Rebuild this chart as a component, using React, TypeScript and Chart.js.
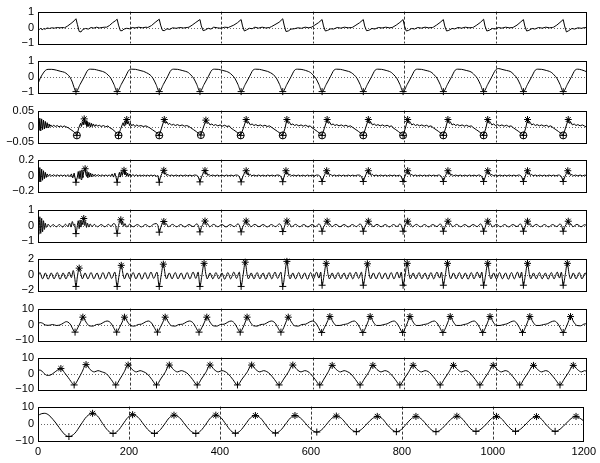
import React, { useEffect, useRef } from "react";
import { Chart, registerables } from "chart.js";
Chart.register(...registerables);

type Pt = [number, number];

const X_TICKS = [0, 200, 400, 600, 800, 1000, 1200];
const X_GRID = [200, 400, 600, 800, 1000];

// ---------- panel 1 : raw signal ----------
const S1: Pt[] = [
  [0,-0.05],[3,-0.12],[6,-0.05],[9,-0.15],[12,-0.08],[16,-0.1],[20,-0.03],[25,-0.06],[30,-0.02],[36,-0.04],[42,0.0],[48,-0.02],[55,0.0],
  [58,-0.02],[64,0.08],[72,0.25],[79,0.42],[83,0.55],[86,0.2],[90,-0.25],[94,-0.28],[98,-0.12],[104,-0.06],[110,-0.1],[116,0.0],[122,-0.04],[128,0.02],[134,-0.03],[140,0.0],[146,0.02],
  [150,0.02],[156,0.12],[163,0.3],[169,0.42],[173,0.52],[176,0.15],[180,-0.2],[184,-0.2],[188,-0.1],[194,-0.05],[200,-0.08],[206,0.0],[212,-0.03],[220,0.02],[228,-0.02],[236,0.02],
  [240,0.0],[248,0.12],[256,0.32],[265,0.52],[268,0.15],[272,-0.18],[276,-0.2],[282,-0.08],[288,-0.12],[294,-0.02],[302,-0.05],[310,0.0],[318,-0.03],[326,0.0],
  [330,0.02],[337,0.15],[345,0.32],[354,0.5],[357,0.1],[361,-0.2],[366,-0.15],[372,-0.05],[378,-0.1],[384,0.02],[392,-0.02],[400,-0.05],[408,0.02],[416,0.0],
  [420,0.05],[428,0.15],[436,0.3],[444,0.5],[447,0.1],[451,-0.22],[456,-0.15],[462,-0.05],[468,-0.08],[474,0.02],[482,-0.04],[490,0.02],[498,-0.03],[506,0.0],
  [510,0.05],[518,0.18],[527,0.33],[535,0.55],[538,0.15],[542,-0.25],[547,-0.22],[553,-0.1],[560,-0.08],[568,-0.02],[576,-0.05],[584,0.02],[592,-0.02],
  [598,0.02],[605,0.15],[613,0.3],[621,0.5],[624,0.1],[628,-0.22],[633,-0.18],[640,-0.08],[646,-0.1],[654,0.0],[662,-0.04],[670,0.02],[678,-0.02],[686,0.0],
  [688,0.02],[695,0.15],[703,0.3],[711,0.5],[714,0.1],[718,-0.2],[723,-0.18],[730,-0.06],[736,-0.1],[744,0.0],[752,-0.03],[760,0.02],[768,-0.02],[774,0.0],
  [776,0.03],[783,0.15],[791,0.32],[798,0.5],[801,0.1],[805,-0.22],[810,-0.18],[817,-0.06],[823,-0.1],[830,0.0],[838,-0.04],[846,0.02],[854,-0.02],[862,0.0],
  [864,0.02],[871,0.15],[879,0.32],[886,0.5],[889,0.1],[893,-0.22],[898,-0.18],[905,-0.06],[911,-0.09],[918,0.0],[926,-0.04],[934,0.02],[942,-0.02],[950,0.0],
  [952,0.02],[959,0.15],[967,0.32],[974,0.52],[977,0.1],[981,-0.22],[986,-0.18],[993,-0.06],[999,-0.1],[1006,0.0],[1014,-0.04],[1022,0.02],[1030,-0.02],[1038,0.0],
  [1040,0.03],[1047,0.15],[1054,0.32],[1061,0.5],[1064,0.1],[1068,-0.22],[1073,-0.18],[1080,-0.06],[1086,-0.1],[1094,0.0],[1102,-0.04],[1110,0.02],[1118,-0.02],[1124,0.0],
  [1127,0.02],[1134,0.15],[1141,0.32],[1148,0.5],[1151,0.1],[1155,-0.28],[1160,-0.2],[1167,-0.06],[1173,-0.1],[1180,-0.02],[1188,-0.05],[1195,0.0],[1200,-0.02],
];

// ---------- panel 2 ----------
const S2: Pt[] = [
  [0,-0.45],[5,-0.1],[10,0.15],[16,0.38],[22,0.45],[30,0.45],[40,0.4],[50,0.32],[58,0.26],[64,0.14],[70,-0.05],[75,-0.35],[79,-0.7],[83,-0.95],
  [92,-0.5],[101,-0.02],[109,0.4],[115,0.46],[123,0.45],[133,0.38],[141,0.32],[147,0.24],[153,0.1],[159,-0.1],[166,-0.5],[173,-0.95],
  [182,-0.5],[191,-0.02],[199,0.4],[205,0.46],[213,0.45],[223,0.38],[231,0.32],[237,0.24],[245,0.1],[251,-0.1],[258,-0.5],[265,-0.95],
  [274,-0.5],[283,-0.02],[291,0.4],[297,0.46],[305,0.45],[315,0.38],[323,0.32],[329,0.24],[334,0.1],[340,-0.1],[347,-0.5],[354,-0.95],
  [363,-0.5],[372,-0.02],[380,0.4],[386,0.46],[394,0.45],[404,0.38],[412,0.32],[418,0.24],[424,0.1],[430,-0.1],[437,-0.5],[444,-0.95],
  [453,-0.5],[462,-0.02],[470,0.4],[476,0.46],[484,0.45],[494,0.38],[502,0.32],[508,0.24],[515,0.1],[521,-0.1],[528,-0.5],[535,-0.95],
  [544,-0.5],[553,-0.02],[561,0.4],[567,0.46],[575,0.45],[585,0.38],[591,0.32],[596,0.24],[601,0.1],[607,-0.1],[614,-0.5],[621,-0.95],
  [630,-0.5],[639,-0.02],[647,0.4],[653,0.46],[661,0.45],[671,0.38],[679,0.32],[685,0.24],[691,0.1],[697,-0.1],[704,-0.5],[711,-0.95],
  [720,-0.5],[729,-0.02],[737,0.4],[743,0.46],[751,0.45],[761,0.38],[768,0.32],[773,0.24],[778,0.1],[784,-0.1],[791,-0.5],[798,-0.95],
  [807,-0.5],[816,-0.02],[824,0.4],[830,0.46],[838,0.45],[848,0.38],[856,0.32],[861,0.24],[866,0.1],[872,-0.1],[879,-0.5],[886,-0.95],
  [895,-0.5],[904,-0.02],[912,0.4],[918,0.46],[926,0.45],[936,0.38],[944,0.32],[949,0.24],[954,0.1],[960,-0.1],[967,-0.5],[974,-0.95],
  [983,-0.5],[992,-0.02],[1000,0.4],[1006,0.5],[1014,0.45],[1024,0.38],[1032,0.32],[1036,0.24],[1041,0.1],[1047,-0.1],[1054,-0.5],[1061,-0.95],
  [1070,-0.5],[1079,-0.02],[1087,0.4],[1093,0.46],[1101,0.45],[1111,0.38],[1118,0.32],[1123,0.24],[1128,0.1],[1134,-0.1],[1141,-0.5],[1148,-0.95],
  [1157,-0.5],[1166,-0.02],[1174,0.4],[1180,0.46],[1188,0.42],[1195,0.35],[1200,0.28],
];
const B_MIN = [83, 173, 265, 354, 444, 535, 621, 711, 798, 886, 974, 1061, 1148];

// ---------- panel 3 ----------
const S3: Pt[] = [
  [0,0.01],[2,-0.012],[4,0.026],[6,-0.014],[8,0.024],[10,-0.01],[12,0.02],[14,-0.008],[16,0.016],[18,-0.005],[20,0.012],[22,-0.003],[24,0.008],[26,0.0],[28,0.005],[31,-0.001],[34,0.004],[38,0.0],[42,0.003],[46,-0.001],[50,0.002],[54,-0.002],[57,0.002],[60,0.0],
  [66,-0.004],[72,-0.01],[78,-0.016],[82,-0.022],[85,-0.028],[89,-0.005],[93,0.01],[95,0.0],[97,0.015],[99,0.005],[101,0.024],[103,0.006],[105,0.018],[107,0.0],[109,0.014],[111,0.0],[113,0.012],[115,-0.002],[117,0.01],[119,0.0],[121,0.008],[124,0.0],[127,0.006],[130,0.001],[134,0.004],[138,0.0],[143,0.003],[148,-0.001],[153,0.002],
  [156,-0.003],[162,-0.008],[168,-0.015],[172,-0.022],[176,-0.028],[180,-0.01],[184,0.005],[186,0.012],[188,0.002],[190,0.018],[192,0.006],[194,0.022],[196,0.008],[198,0.014],[200,0.003],[202,0.01],[205,0.002],[208,0.007],[212,0.0],[216,0.005],[220,0.001],[225,0.003],[230,0.0],[236,0.002],[241,-0.002],
  [244,-0.004],[250,-0.01],[256,-0.016],[261,-0.022],[265,-0.028],[270,-0.005],[276,0.022],[279,0.01],[282,0.014],[285,0.006],[288,0.01],[292,0.004],[296,0.007],[300,0.003],[305,0.006],[310,0.002],[315,0.005],[320,0.001],[325,0.003],[330,0.0],
  [334,-0.004],[340,-0.01],[346,-0.016],[351,-0.022],[356,-0.027],[361,-0.005],[367,0.02],[370,0.01],[373,0.012],[376,0.005],[380,0.008],[384,0.003],[388,0.006],[393,0.002],[398,0.005],[403,0.001],[408,0.004],[413,0.0],[418,0.002],
  [421,-0.004],[427,-0.01],[433,-0.016],[438,-0.022],[443,-0.028],[449,-0.005],[455,0.022],[458,0.01],[461,0.013],[464,0.005],[468,0.008],[472,0.003],[476,0.006],[481,0.002],[486,0.005],[491,0.001],[496,0.004],[501,0.0],[506,0.002],
  [512,-0.004],[518,-0.01],[524,-0.016],[530,-0.022],[535,-0.028],[540,-0.005],[544,0.022],[547,0.01],[550,0.013],[553,0.005],[557,0.008],[561,0.003],[565,0.006],[570,0.002],[575,0.005],[580,0.001],[585,0.004],[590,0.0],[595,0.002],
  [599,-0.004],[605,-0.01],[611,-0.016],[616,-0.022],[621,-0.028],[626,-0.005],[632,0.022],[635,0.01],[638,0.013],[641,0.005],[645,0.008],[649,0.003],[653,0.006],[658,0.002],[663,0.005],[668,0.001],[673,0.004],[678,0.0],[683,0.002],
  [689,-0.004],[695,-0.01],[701,-0.016],[706,-0.022],[711,-0.028],[716,-0.005],[722,0.022],[725,0.01],[728,0.013],[731,0.005],[735,0.008],[739,0.003],[743,0.006],[748,0.002],[753,0.005],[758,0.001],[763,0.004],[768,0.0],[773,0.002],
  [776,-0.004],[782,-0.01],[788,-0.016],[793,-0.022],[798,-0.028],[803,-0.005],[808,0.022],[811,0.01],[814,0.013],[817,0.005],[821,0.008],[825,0.003],[829,0.006],[834,0.002],[839,0.005],[844,0.001],[849,0.004],[854,0.0],[859,0.002],
  [864,-0.004],[870,-0.01],[876,-0.016],[881,-0.022],[886,-0.028],[891,-0.005],[896,0.022],[899,0.01],[902,0.013],[905,0.005],[909,0.008],[913,0.003],[917,0.006],[922,0.002],[927,0.005],[932,0.001],[937,0.004],[942,0.0],[947,0.002],
  [952,-0.004],[958,-0.01],[964,-0.016],[969,-0.022],[974,-0.028],[979,-0.005],[983,0.022],[986,0.01],[989,0.013],[992,0.005],[996,0.008],[1000,0.003],[1004,0.006],[1009,0.002],[1014,0.005],[1019,0.001],[1024,0.004],[1029,0.0],[1034,0.002],
  [1039,-0.004],[1045,-0.01],[1051,-0.016],[1056,-0.022],[1061,-0.028],[1066,-0.005],[1070,0.022],[1073,0.01],[1076,0.013],[1079,0.005],[1083,0.008],[1087,0.003],[1091,0.006],[1096,0.002],[1101,0.005],[1106,0.001],[1111,0.004],[1116,0.0],[1121,0.002],
  [1126,-0.004],[1132,-0.01],[1138,-0.016],[1143,-0.022],[1148,-0.028],[1153,-0.005],[1159,0.022],[1162,0.01],[1165,0.013],[1168,0.005],[1172,0.008],[1176,0.003],[1180,0.006],[1185,0.002],[1190,0.005],[1195,0.001],[1200,-0.003],
];
const S3_MIN = [85, 176, 265, 356, 443, 535, 621, 711, 798, 886, 974, 1061, 1148];
const S3_MAX = [101, 194, 276, 367, 455, 544, 632, 722, 808, 896, 983, 1070, 1159];

// ---------- panel 4 ----------
const S4: Pt[] = [
  [0,0.02],[2,-0.08],[4,0.1],[6,-0.08],[8,0.08],[10,-0.06],[12,0.06],[14,-0.04],[16,0.04],[18,-0.025],[20,0.02],[23,-0.01],[26,0.015],[30,-0.008],[34,0.01],[38,-0.005],[42,0.008],[46,-0.006],[50,0.006],[54,-0.005],[58,0.006],[62,-0.008],[66,0.01],[70,-0.015],[73,0.02],[76,-0.03],[79,0.03],
  [83,-0.085],[86,-0.02],[88,0.05],[90,-0.04],[92,0.06],[94,-0.05],[96,0.07],[98,-0.03],[100,0.05],[103,0.085],[105,0.0],[107,0.05],[109,-0.03],[111,0.04],[113,-0.02],[115,0.03],[117,-0.015],[119,0.02],[122,-0.01],[125,0.015],[128,-0.005],[132,0.01],[136,-0.006],[140,0.008],[144,-0.005],[148,0.006],[152,-0.005],[156,0.008],[159,-0.01],[162,0.02],[165,-0.02],[168,0.03],[170,-0.01],
  [173,-0.085],[176,0.0],[178,0.04],[180,-0.02],[182,0.05],[184,0.0],[186,0.045],[188,0.065],[190,0.01],[192,0.04],[194,-0.01],[196,0.03],[198,-0.01],[201,0.02],[204,-0.008],[207,0.012],[211,-0.005],[215,0.008],[219,-0.006],[223,0.006],[227,-0.005],[231,0.006],[235,-0.004],[239,0.005],[243,-0.005],[247,0.006],[251,-0.004],[255,0.005],[259,-0.01],[262,0.0],
  [265,-0.085],[268,-0.01],[271,0.025],[275,0.065],[277,0.015],[279,0.03],[281,0.0],[284,0.015],[287,-0.004],[292,0.006],[297,-0.005],[302,0.006],[307,-0.005],[312,0.005],[317,-0.006],[322,0.006],[327,-0.004],[332,0.005],[337,-0.005],[342,0.006],[346,0.004],[350,-0.012],
  [354,-0.08],[358,-0.01],[361,0.025],[365,0.062],[367,0.015],[369,0.03],[371,0.0],[374,0.015],[377,-0.004],[382,0.006],[387,-0.005],[392,0.006],[397,-0.005],[402,0.005],[407,-0.006],[412,0.006],[417,-0.004],[422,0.005],[427,-0.005],[432,0.006],[436,0.004],[440,-0.012],
  [444,-0.08],[448,-0.01],[451,0.025],[455,0.06],[457,0.015],[459,0.03],[461,0.0],[464,0.015],[467,-0.004],[472,0.006],[477,-0.005],[482,0.006],[487,-0.005],[492,0.005],[497,-0.006],[502,0.006],[507,-0.004],[512,0.005],[517,-0.005],[522,0.006],[527,0.004],[531,-0.012],
  [535,-0.078],[538,-0.01],[540,0.025],[542,0.06],[544,0.015],[546,0.03],[548,0.0],[551,0.015],[554,-0.004],[559,0.006],[564,-0.005],[569,0.006],[574,-0.005],[579,0.005],[584,-0.006],[589,0.006],[594,-0.004],[599,0.005],[604,-0.005],[609,0.006],[613,0.004],[617,-0.012],
  [621,-0.075],[625,-0.01],[628,0.025],[631,0.06],[633,0.015],[635,0.03],[637,0.0],[640,0.015],[643,-0.004],[648,0.006],[653,-0.005],[658,0.006],[663,-0.005],[668,0.005],[673,-0.006],[678,0.006],[683,-0.004],[688,0.005],[693,-0.005],[698,0.006],[703,0.004],[707,-0.012],
  [711,-0.075],[715,-0.01],[718,0.025],[722,0.06],[724,0.015],[726,0.03],[728,0.0],[731,0.015],[734,-0.004],[739,0.006],[744,-0.005],[749,0.006],[754,-0.005],[759,0.005],[764,-0.006],[769,0.006],[774,-0.004],[779,0.005],[784,-0.005],[790,0.004],[794,-0.012],
  [798,-0.075],[802,-0.01],[805,0.025],[808,0.06],[810,0.015],[812,0.03],[814,0.0],[817,0.015],[820,-0.004],[825,0.006],[830,-0.005],[835,0.006],[840,-0.005],[845,0.005],[850,-0.006],[855,0.006],[860,-0.004],[865,0.005],[870,-0.005],[875,0.006],[878,0.004],[882,-0.012],
  [886,-0.075],[890,-0.01],[893,0.025],[896,0.06],[898,0.015],[900,0.03],[902,0.0],[905,0.015],[908,-0.004],[913,0.006],[918,-0.005],[923,0.006],[928,-0.005],[933,0.005],[938,-0.006],[943,0.006],[948,-0.004],[953,0.005],[958,-0.005],[963,0.006],[966,0.004],[970,-0.012],
  [974,-0.075],[978,-0.01],[980,0.025],[983,0.06],[985,0.015],[987,0.03],[989,0.0],[992,0.015],[995,-0.004],[1000,0.006],[1005,-0.005],[1010,0.006],[1015,-0.005],[1020,0.005],[1025,-0.006],[1030,0.006],[1035,-0.004],[1040,0.005],[1045,-0.005],[1050,0.006],[1053,0.004],[1057,-0.012],
  [1061,-0.075],[1065,-0.01],[1067,0.025],[1070,0.06],[1072,0.015],[1074,0.03],[1076,0.0],[1079,0.015],[1082,-0.004],[1087,0.006],[1092,-0.005],[1097,0.006],[1102,-0.005],[1107,0.005],[1112,-0.006],[1117,0.006],[1122,-0.004],[1127,0.005],[1132,-0.005],[1137,0.006],[1140,0.004],[1144,-0.012],
  [1148,-0.075],[1152,-0.01],[1155,0.025],[1158,0.06],[1160,0.015],[1162,0.03],[1164,0.0],[1167,0.015],[1170,-0.004],[1175,0.006],[1180,-0.005],[1185,0.006],[1190,-0.005],[1195,0.005],[1200,-0.002],
];
const S4_MAX = [103, 188, 275, 365, 455, 542, 631, 722, 808, 896, 983, 1070, 1158];

// ---------- panel 5 ----------
const S5: Pt[] = [
  [0,0.1],[2,-0.55],[4,0.55],[6,-0.5],[8,0.45],[10,-0.4],[12,0.3],[14,-0.25],[16,0.15],[18,-0.12],[22,0.08],[27,-0.08],[33,0.06],[40,-0.08],[47,0.06],[54,-0.1],[60,0.08],[65,-0.06],[69,0.15],[72,-0.1],[75,0.25],[78,0.0],[80,0.1],
  [83,-0.51],[86,0.0],[88,0.3],[90,-0.2],[92,0.35],[94,-0.1],[96,0.3],[98,0.05],[100,0.44],[102,0.0],[104,0.25],[106,-0.12],[108,0.15],[111,-0.1],[114,0.1],[118,-0.08],[123,0.07],[130,-0.08],[138,0.06],[146,-0.08],[154,0.07],[160,-0.06],[165,0.12],[169,0.05],
  [173,-0.49],[176,0.0],[178,0.2],[181,0.36],[183,0.05],[185,0.25],[187,-0.05],[190,0.12],[194,-0.1],[200,0.08],[208,-0.08],[217,0.06],[226,-0.09],[235,0.06],[244,-0.08],[252,0.07],[258,0.12],[262,0.0],
  [265,-0.42],[269,-0.05],[272,0.12],[275,0.25],[278,0.02],[281,0.1],[285,-0.08],[294,0.07],[303,-0.08],[312,0.06],[321,-0.09],[330,0.06],[339,-0.07],[347,0.1],[351,-0.05],
  [354,-0.4],[358,-0.05],[362,0.12],[365,0.28],[368,0.02],[371,0.1],[375,-0.08],[384,0.07],[393,-0.08],[402,0.06],[411,-0.09],[420,0.06],[429,-0.07],[437,0.1],[441,-0.05],
  [444,-0.4],[448,-0.05],[452,0.12],[455,0.28],[458,0.02],[461,0.1],[465,-0.08],[474,0.07],[483,-0.08],[492,0.06],[501,-0.09],[510,0.06],[519,-0.07],[528,0.1],[532,-0.05],
  [535,-0.38],[539,-0.05],[541,0.12],[544,0.28],[547,0.02],[550,0.1],[554,-0.08],[563,0.07],[572,-0.08],[581,0.06],[590,-0.09],[599,0.06],[607,-0.07],[614,0.1],[618,-0.05],
  [621,-0.36],[625,-0.05],[629,0.12],[632,0.27],[635,0.02],[638,0.1],[642,-0.08],[651,0.07],[660,-0.08],[669,0.06],[678,-0.09],[687,0.06],[696,-0.07],[704,0.1],[708,-0.05],
  [711,-0.36],[715,-0.05],[719,0.12],[722,0.27],[725,0.02],[728,0.1],[732,-0.08],[741,0.07],[750,-0.08],[759,0.06],[768,-0.09],[777,0.06],[785,-0.07],[791,0.1],[795,-0.05],
  [798,-0.36],[802,-0.05],[805,0.12],[808,0.27],[811,0.02],[814,0.1],[818,-0.08],[827,0.07],[836,-0.08],[845,0.06],[854,-0.09],[863,0.06],[872,-0.07],[879,0.1],[883,-0.05],
  [886,-0.36],[890,-0.05],[893,0.12],[896,0.27],[899,0.02],[902,0.1],[906,-0.08],[915,0.07],[924,-0.08],[933,0.06],[942,-0.09],[951,0.06],[960,-0.07],[967,0.1],[971,-0.05],
  [974,-0.36],[978,-0.05],[980,0.12],[983,0.27],[986,0.02],[989,0.1],[993,-0.08],[1002,0.07],[1011,-0.08],[1020,0.06],[1029,-0.09],[1038,0.06],[1047,-0.07],[1054,0.1],[1058,-0.05],
  [1061,-0.36],[1065,-0.05],[1067,0.12],[1070,0.27],[1073,0.02],[1076,0.1],[1080,-0.08],[1089,0.07],[1098,-0.08],[1107,0.06],[1116,-0.09],[1125,0.06],[1134,-0.07],[1141,0.1],[1145,-0.05],
  [1148,-0.36],[1152,-0.05],[1156,0.12],[1159,0.27],[1162,0.02],[1165,0.1],[1169,-0.08],[1178,0.07],[1187,-0.08],[1195,0.05],[1200,-0.02],
];
const S5_MAX = [100, 181, 275, 365, 455, 544, 632, 722, 808, 896, 983, 1070, 1159];

// ---------- panel 6 ----------
const S6: Pt[] = [
  [0,-0.3],[4,0.25],[10,-0.55],[16,0.2],[22,-0.6],[29,0.2],[35,-0.55],[42,0.25],[48,-0.6],[55,0.2],[61,-0.55],[68,0.3],[73,-0.4],[77,0.5],[80,-0.3],
  [83,-1.5],[86,-0.3],[90,0.8],[94,0.0],[97,-0.55],[103,0.2],[109,-0.55],[116,0.25],[122,-0.55],[129,0.2],[135,-0.6],[142,0.25],[148,-0.55],[155,0.3],[161,-0.5],[168,0.3],
  [173,-1.5],[177,-0.2],[182,1.15],[186,0.0],[189,-0.55],[195,0.2],[201,-0.55],[208,0.25],[214,-0.55],[221,0.2],[227,-0.6],[234,0.25],[240,-0.55],[247,0.3],[253,-0.5],[260,0.3],
  [265,-1.5],[269,-0.2],[274,1.3],[278,0.0],[281,-0.55],[287,0.2],[293,-0.55],[300,0.25],[306,-0.55],[313,0.2],[319,-0.6],[326,0.25],[332,-0.55],[339,0.3],[345,-0.5],[350,0.3],
  [354,-1.5],[358,-0.2],[363,1.4],[367,0.0],[370,-0.55],[376,0.2],[382,-0.55],[389,0.25],[395,-0.55],[402,0.2],[408,-0.6],[415,0.25],[421,-0.55],[428,0.3],[434,-0.5],[440,0.3],
  [444,-1.5],[448,-0.2],[453,1.55],[457,0.0],[460,-0.55],[466,0.2],[472,-0.55],[479,0.25],[485,-0.55],[492,0.2],[498,-0.6],[505,0.25],[511,-0.55],[518,0.3],[524,-0.5],[531,0.3],
  [535,-1.5],[539,-0.2],[544,1.65],[548,0.0],[551,-0.55],[557,0.2],[563,-0.55],[570,0.25],[576,-0.55],[583,0.2],[589,-0.6],[596,0.25],[602,-0.55],[609,0.3],[614,-0.45],[618,0.3],
  [621,-1.35],[625,-0.2],[630,1.4],[634,0.0],[637,-0.55],[643,0.2],[649,-0.55],[656,0.25],[662,-0.55],[669,0.2],[675,-0.6],[682,0.25],[688,-0.55],[695,0.3],[701,-0.5],[707,0.3],
  [711,-1.35],[715,-0.2],[720,1.35],[724,0.0],[727,-0.55],[733,0.2],[739,-0.55],[746,0.25],[752,-0.55],[759,0.2],[765,-0.6],[772,0.25],[778,-0.55],[785,0.3],[790,-0.45],[794,0.3],
  [798,-1.35],[802,-0.2],[807,1.4],[811,0.0],[814,-0.55],[820,0.2],[826,-0.55],[833,0.25],[839,-0.55],[846,0.2],[852,-0.6],[859,0.25],[865,-0.55],[872,0.3],[878,-0.45],[882,0.3],
  [886,-1.35],[890,-0.2],[895,1.4],[899,0.0],[902,-0.55],[908,0.2],[914,-0.55],[921,0.25],[927,-0.55],[934,0.2],[940,-0.6],[947,0.25],[953,-0.55],[960,0.3],[966,-0.45],[970,0.3],
  [974,-1.35],[978,-0.2],[983,1.4],[987,0.0],[990,-0.55],[996,0.2],[1002,-0.55],[1009,0.25],[1015,-0.55],[1022,0.2],[1028,-0.6],[1035,0.25],[1041,-0.55],[1048,0.3],[1053,-0.45],[1057,0.3],
  [1061,-1.35],[1065,-0.2],[1070,1.4],[1074,0.0],[1077,-0.55],[1083,0.2],[1089,-0.55],[1096,0.25],[1102,-0.55],[1109,0.2],[1115,-0.6],[1122,0.25],[1128,-0.55],[1135,0.3],[1140,-0.45],[1144,0.3],
  [1148,-1.35],[1152,-0.2],[1157,1.4],[1161,0.0],[1164,-0.55],[1170,0.2],[1176,-0.55],[1183,0.25],[1189,-0.55],[1196,0.2],[1200,-0.3],
];
const S6_MAX = [90, 182, 274, 363, 453, 544, 630, 720, 807, 895, 983, 1070, 1157];

// ---------- panel 7 ----------
const S7: Pt[] = [
  [0,0.6],[5,1.2],[10,0.8],[16,-0.3],[24,-0.5],[32,0.0],[40,-0.6],[48,-0.3],[55,0.8],[62,1.8],[68,1.0],[72,-0.5],[76,-2.8],
  [81,-4.8],[87,-2.0],[93,1.5],[98,4.6],[105,1.5],[112,-0.8],[120,-1.0],[128,0.0],[136,0.2],[144,1.5],[151,2.2],[159,1.0],[165,-1.8],
  [172,-4.8],[178,-2.0],[184,1.5],[189,4.6],[196,1.5],[203,-0.8],[211,-1.0],[219,0.0],[226,0.2],[234,1.5],[241,2.2],[248,1.0],[254,-1.8],
  [261,-4.8],[267,-2.0],[273,1.5],[278,4.6],[285,1.5],[292,-0.8],[300,-1.0],[308,0.0],[316,0.2],[324,1.5],[331,2.2],[339,1.0],[345,-1.8],
  [352,-4.8],[358,-2.0],[364,1.5],[369,4.6],[376,1.5],[383,-0.8],[391,-1.0],[399,0.0],[407,0.2],[415,1.5],[422,2.2],[429,1.0],[435,-1.8],
  [442,-4.8],[448,-2.0],[453,1.5],[457,4.6],[464,1.5],[471,-0.8],[479,-1.0],[487,0.0],[495,0.2],[503,1.5],[510,2.2],[518,1.0],[524,-1.8],
  [531,-4.8],[537,-2.0],[542,1.5],[547,4.6],[554,1.5],[561,-0.8],[569,-1.0],[577,0.0],[585,0.2],[593,1.5],[600,2.2],[607,1.0],[613,-1.8],
  [620,-5.0],[626,-2.0],[632,1.5],[638,5.0],[645,1.5],[652,-0.6],[660,-0.6],[668,0.0],[676,0.4],[684,1.6],[691,2.2],[697,1.0],[703,-1.8],
  [710,-5.0],[716,-2.0],[721,1.5],[726,5.0],[733,1.5],[740,-0.6],[748,-0.6],[756,0.0],[763,0.4],[771,1.6],[778,2.2],[784,1.0],[790,-1.8],
  [797,-5.0],[803,-2.0],[808,1.5],[813,5.0],[820,1.5],[827,-0.6],[835,-0.6],[843,0.0],[851,0.4],[859,1.6],[866,2.2],[872,1.0],[878,-1.8],
  [885,-5.0],[891,-2.0],[896,1.5],[901,5.0],[908,1.5],[915,-0.6],[923,-0.6],[931,0.0],[938,0.4],[946,1.6],[953,2.2],[959,1.0],[965,-1.8],
  [972,-5.0],[978,-2.0],[983,1.5],[988,5.0],[995,1.5],[1002,-0.6],[1010,-0.6],[1018,0.0],[1025,0.4],[1033,1.6],[1040,2.2],[1046,1.0],[1052,-1.8],
  [1059,-5.0],[1065,-2.0],[1070,1.5],[1075,5.0],[1082,1.5],[1089,-0.6],[1097,-0.6],[1105,0.0],[1113,0.4],[1121,1.6],[1128,2.2],[1135,1.0],[1141,-1.8],
  [1148,-5.0],[1154,-2.0],[1159,1.5],[1164,5.0],[1171,1.5],[1178,-0.6],[1186,-0.8],[1193,0.2],[1200,0.6],
];
const S7_MIN = [81, 172, 261, 352, 442, 531, 620, 710, 797, 885, 972, 1059, 1148];
const S7_MAX = [98, 189, 278, 369, 457, 547, 638, 726, 813, 901, 988, 1075, 1164];

// ---------- panel 8 ----------
const S8: Pt[] = [
  [0,2.2],[6,2.0],[12,0.5],[20,-1.2],[27,-1.0],[35,0.5],[43,2.2],[50,3.1],[58,0.5],[66,-2.5],[72,-5.0],
  [79,-7.2],[88,-3.5],[96,0.8],[105,5.6],[114,2.5],[123,1.0],[131,1.8],[138,1.2],[150,-0.3],[160,-3.8],
  [170,-7.2],[179,-3.5],[188,0.8],[197,5.3],[206,2.5],[215,1.0],[223,1.8],[230,1.2],[239,-0.3],[249,-3.8],
  [259,-7.2],[268,-3.5],[278,0.8],[287,5.3],[296,2.5],[305,1.0],[313,1.8],[320,1.2],[328,-0.3],[338,-3.8],
  [348,-7.2],[357,-3.5],[367,0.8],[376,5.3],[385,2.5],[394,1.0],[402,1.8],[409,1.2],[416,-0.3],[426,-3.8],
  [436,-7.2],[446,-3.5],[457,0.8],[467,5.3],[476,2.5],[485,1.0],[493,1.8],[500,1.2],[507,-0.3],[517,-3.8],
  [527,-7.2],[537,-3.5],[547,0.8],[557,5.3],[566,2.5],[575,1.0],[583,1.8],[590,1.2],[596,-0.3],[606,-3.8],
  [616,-7.2],[625,-3.5],[634,0.8],[643,5.1],[652,2.5],[661,1.0],[669,1.8],[676,1.2],[684,-0.3],[694,-3.8],
  [704,-7.2],[713,-3.5],[723,0.8],[732,5.1],[741,2.5],[750,1.0],[758,1.8],[765,1.2],[771,-0.3],[781,-3.8],
  [791,-7.2],[800,-3.5],[810,0.8],[820,5.1],[829,2.5],[838,1.0],[846,1.8],[853,1.2],[859,-0.3],[869,-3.8],
  [879,-7.2],[888,-3.5],[898,0.8],[908,5.1],[917,2.5],[926,1.0],[934,1.8],[941,1.2],[946,-0.3],[956,-3.8],
  [966,-7.2],[975,-3.5],[985,0.8],[995,5.1],[1004,2.5],[1013,1.0],[1021,1.8],[1028,1.2],[1033,-0.3],[1043,-3.8],
  [1053,-7.2],[1062,-3.5],[1072,0.8],[1083,5.1],[1092,2.5],[1101,1.0],[1109,1.8],[1116,1.2],[1121,-0.3],[1131,-3.8],
  [1141,-7.2],[1150,-3.5],[1160,0.8],[1170,5.1],[1179,2.5],[1188,1.0],[1195,1.8],[1200,1.2],
];
const S8_MIN = [79, 170, 259, 348, 436, 527, 616, 704, 791, 879, 966, 1053, 1141];
const S8_MAX = [50, 105, 197, 287, 376, 467, 557, 643, 732, 820, 908, 995, 1083, 1170];

// ---------- panel 9 ----------
const S9: Pt[] = [
  [0,4.8],[7,5.8],[15,6.1],[24,5.0],[33,2.5],[42,-0.5],[51,-3.8],[60,-6.5],[68,-7.4],
  [81,-5.5],[94,-0.6],[107,4.2],[120,6.1],[131,4.5],[142,0.2],[154,-4.0],[165,-5.6],
  [176,-4.0],[187,-0.1],[198,3.8],[208,5.3],[220,3.8],[232,-0.2],[244,-4.0],[256,-5.6],
  [267,-4.0],[278,-0.3],[289,3.6],[299,5.0],[311,3.6],[323,-0.3],[335,-4.0],[347,-5.6],
  [358,-4.0],[369,-0.3],[380,3.6],[391,5.0],[402,3.6],[413,-0.2],[424,-4.0],[434,-5.5],
  [445,-4.0],[456,-0.3],[467,3.4],[478,4.8],[489,3.4],[500,-0.3],[511,-3.9],[522,-5.4],
  [533,-3.9],[544,-0.3],[555,3.4],[565,4.8],[577,3.4],[589,0.0],[601,-3.4],[613,-4.8],
  [624,-3.4],[635,-0.1],[646,3.2],[656,4.5],[667,3.2],[678,-0.1],[689,-3.3],[700,-4.6],
  [711,-3.3],[723,-0.1],[735,3.0],[746,4.3],[757,3.0],[767,-0.2],[778,-3.3],[788,-4.6],
  [799,-3.3],[810,-0.1],[821,3.0],[831,4.3],[842,3.0],[853,-0.1],[864,-3.3],[875,-4.6],
  [886,-3.3],[898,-0.1],[910,3.1],[921,4.4],[932,3.1],[942,0.0],[952,-3.1],[963,-4.4],
  [974,-3.1],[986,-0.1],[997,3.0],[1008,4.3],[1019,3.0],[1029,-0.1],[1040,-3.1],[1050,-4.4],
  [1061,-3.1],[1073,-0.1],[1085,3.0],[1096,4.2],[1106,3.0],[1116,-0.1],[1127,-3.1],[1137,-4.4],
  [1148,-3.1],[1160,-0.1],[1172,3.0],[1183,4.3],[1192,3.2],[1200,1.6],
];
const S9_MIN = [68, 165, 256, 347, 434, 522, 613, 700, 788, 875, 963, 1050, 1137];
const S9_MAX = [120, 208, 299, 391, 478, 565, 656, 746, 831, 921, 1008, 1096, 1183];

// ---------- axes ----------
const Y_RANGES: [number, number][] = [[-1, 1], [-1, 1], [-0.05, 0.05], [-0.2, 0.2], [-1, 1], [-2, 2], [-10, 10], [-10, 10], [-10, 10]];
const Y_LABELS: string[][] = [
  ["−1", "0", "1"], ["−1", "0", "1"], ["−0.05", "0", "0.05"], ["−0.2", "0", "0.2"], ["−1", "0", "1"],
  ["−2", "0", "2"], ["−10", "0", "10"], ["−10", "0", "10"], ["−10", "0", "10"],
];

type MarkerSet = { xs: number[]; style: string; r: number };
type PanelCfg = { sig: Pt[]; markers: MarkerSet[]; smooth: boolean };

const PANELS: PanelCfg[] = [
  { sig: S1, markers: [], smooth: false },
  { sig: S2, markers: [{ xs: B_MIN, style: "cross", r: 3.5 }], smooth: true },
  { sig: S3, markers: [{ xs: S3_MIN, style: "circle", r: 3.5 }, { xs: S3_MIN, style: "cross", r: 3.5 }, { xs: S3_MAX, style: "star", r: 3.5 }], smooth: false },
  { sig: S4, markers: [{ xs: B_MIN, style: "cross", r: 3.5 }, { xs: S4_MAX, style: "star", r: 3.5 }], smooth: false },
  { sig: S5, markers: [{ xs: B_MIN, style: "cross", r: 3.5 }, { xs: S5_MAX, style: "star", r: 3.5 }], smooth: true },
  { sig: S6, markers: [{ xs: B_MIN, style: "cross", r: 3.5 }, { xs: S6_MAX, style: "star", r: 3.5 }], smooth: true },
  { sig: S7, markers: [{ xs: S7_MIN, style: "cross", r: 3.5 }, { xs: S7_MAX, style: "star", r: 3.5 }], smooth: true },
  { sig: S8, markers: [{ xs: S8_MIN, style: "cross", r: 3.5 }, { xs: S8_MAX, style: "star", r: 3.5 }], smooth: true },
  { sig: S9, markers: [{ xs: S9_MIN, style: "cross", r: 3.5 }, { xs: S9_MAX, style: "star", r: 3.5 }], smooth: true },
];

const PANEL_TOPS = [9, 58, 108, 157, 207, 256, 306, 355, 404];
const PANEL_H = 37;
const PAD = 8;
const XAXIS_H = 20;
const FONT = { family: "'Liberation Sans', Arial, Helvetica, sans-serif", size: 11 };

function pick(sig: Pt[], xs: number[]) {
  return xs.map((x) => {
    let best = sig[0];
    for (const p of sig) if (Math.abs(p[0] - x) < Math.abs(best[0] - x)) best = p;
    return { x: best[0], y: best[1] };
  });
}

const framePlugin = {
  id: "frame",
  beforeDatasetsDraw(chart: any) {
    const { ctx, chartArea, scales } = chart;
    const { left, right, top, bottom } = chartArea;
    ctx.save();
    ctx.lineWidth = 1;
    ctx.strokeStyle = "#3a3a3a";
    ctx.setLineDash([3, 2]);
    for (const v of X_GRID) {
      const px = Math.round(scales.x.getPixelForValue(v)) + 0.5;
      ctx.beginPath();
      ctx.moveTo(px, top);
      ctx.lineTo(px, bottom);
      ctx.stroke();
    }
    ctx.strokeStyle = "#666";
    ctx.setLineDash([1, 2]);
    const py = Math.round(scales.y.getPixelForValue(0)) + 0.5;
    ctx.beginPath();
    ctx.moveTo(left, py);
    ctx.lineTo(right, py);
    ctx.stroke();
    ctx.restore();
  },
  afterDraw(chart: any) {
    const { ctx, chartArea } = chart;
    const { left, right, top, bottom } = chartArea;
    ctx.save();
    ctx.strokeStyle = "#000";
    ctx.lineWidth = 1;
    ctx.setLineDash([]);
    ctx.strokeRect(Math.round(left) + 0.5, Math.round(top) + 0.5, Math.round(right - left) - 1, Math.round(bottom - top));
    ctx.restore();
  },
};

function Panel({ idx }: { idx: number }) {
  const ref = useRef<HTMLCanvasElement>(null);
  const last = idx === PANELS.length - 1;
  const h = PAD + PANEL_H + (last ? XAXIS_H : PAD);
  useEffect(() => {
    const cfg = PANELS[idx];
    const [ymin, ymax] = Y_RANGES[idx];
    const labels = Y_LABELS[idx];
    const datasets: any[] = [
      {
        data: cfg.sig.map(([x, y]) => ({ x, y })),
        borderColor: "#000",
        borderWidth: 1,
        pointRadius: 0,
        tension: 0,
        cubicInterpolationMode: cfg.smooth ? "monotone" : "default",
        order: 2,
      },
      ...cfg.markers.map((m) => ({
        data: pick(cfg.sig, m.xs),
        showLine: false,
        pointStyle: m.style,
        pointRadius: m.r,
        pointBorderColor: "#000",
        pointBackgroundColor: "rgba(0,0,0,0)",
        pointBorderWidth: 1,
        order: 1,
        clip: 6,
      })),
    ];
    const chart = new Chart(ref.current as HTMLCanvasElement, {
      type: "line",
      data: { datasets },
      plugins: [framePlugin],
      options: {
        animation: false,
        responsive: false,
        maintainAspectRatio: false,
        events: [],
        layout: { padding: { top: PAD, bottom: last ? 0 : PAD, left: 0, right: 13 } },
        plugins: { legend: { display: false }, tooltip: { enabled: false } },
        scales: {
          x: {
            type: "linear",
            min: 0,
            max: 1200,
            display: last,
            grid: { display: false, drawTicks: false },
            border: { display: false },
            afterBuildTicks: (s: any) => { s.ticks = X_TICKS.map((v) => ({ value: v })); },
            afterFit: (s: any) => { s.height = last ? XAXIS_H : 0; },
            ticks: { font: FONT, color: "#000", padding: 4, autoSkip: false, maxRotation: 0, callback: (v: any) => String(v) },
          },
          y: {
            type: "linear",
            min: ymin,
            max: ymax,
            grid: { display: false, drawTicks: false },
            border: { display: false },
            afterBuildTicks: (s: any) => { s.ticks = [ymin, 0, ymax].map((v) => ({ value: v })); },
            afterFit: (s: any) => { s.width = 38; },
            ticks: { font: FONT, color: "#000", padding: 4, autoSkip: false, callback: (_v: any, i: number) => labels[i] },
          },
        },
      } as any,
    });
    return () => chart.destroy();
  }, [idx]);
  return (
    <canvas
      ref={ref}
      width={600}
      height={h}
      style={{ position: "absolute", left: 0, top: PANEL_TOPS[idx] - PAD, width: 600, height: h }}
    />
  );
}

export default function App() {
  return (
    <div style={{ position: "absolute", left: 0, top: 0, width: 600, height: 463, background: "#fff", overflow: "hidden" }}>
      {PANELS.map((_, i) => (
        <Panel key={i} idx={i} />
      ))}
    </div>
  );
}
